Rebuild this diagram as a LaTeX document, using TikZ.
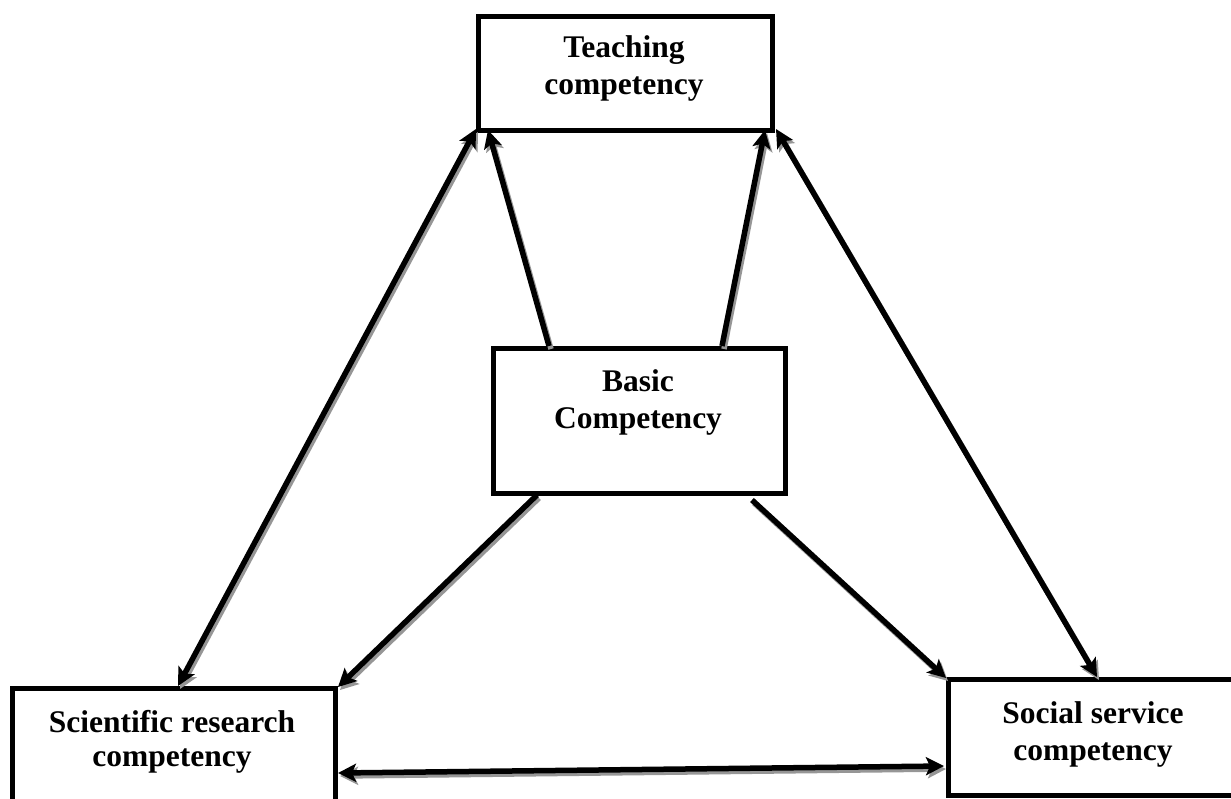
\documentclass[tikz,border=0pt]{standalone}
\usepackage{fontspec}
\setmainfont{Liberation Serif}
\usetikzlibrary{arrows.meta}
\definecolor{shadowgray}{RGB}{150,150,150}
\tikzset{
  box/.style={draw, line width=5pt, rectangle, inner sep=0pt, outer sep=0pt},
  label/.style={anchor=base, inner sep=0pt,
    font=\fontsize{31.5}{37}\selectfont\bfseries},
  tip/.tip={Stealth[length=18pt,width=18pt,inset=4pt]},
  link/.style={line width=5.5pt, -tip},
  linkboth/.style={line width=5.5pt, tip-tip},
  shade/.style={draw=shadowgray, transform canvas={shift={(2pt,-3pt)}}},
}
\begin{document}
\begin{tikzpicture}[x=1pt,y=-1pt]
  \clip (0,0) rectangle (1231,798);

  % boxes
  \node[box, minimum width=294pt, minimum height=114pt] (teach) at (625,73) {};
  \node[box, minimum width=292pt, minimum height=145pt] (basic) at (639,420.5) {};
  \node[box, minimum width=323pt, minimum height=142pt] (sci) at (173.5,759) {};
  \node[box, minimum width=312pt, minimum height=116pt] (soc) at (1104,737) {};

  % box captions
  \node[label] (teachtxt) at (624,57)
    {\begin{tabular}[t]{@{}c@{}}Teaching\\competency\end{tabular}};
  \node[label] (basictxt) at (638,391)
    {\begin{tabular}[t]{@{}c@{}}Basic\\Competency\end{tabular}};
  \node[label, font=\fontsize{31.5}{34}\selectfont\bfseries] (scitxt) at (172,732)
    {\begin{tabular}[t]{@{}c@{}}Scientific research\\competency\end{tabular}};
  \node[label] (soctxt) at (1093,723)
    {\begin{tabular}[t]{@{}c@{}}Social service\\competency\end{tabular}};

  % connector end points on the box borders
  \coordinate (t1) at ([xshift=-2pt,yshift=1pt]teach.south west);
  \coordinate (t2) at ([xshift=10pt]teach.south west);
  \coordinate (t3) at ([xshift=-7pt]teach.south east);
  \coordinate (t4) at ([xshift=4pt,yshift=1pt]teach.south east);
  \coordinate (b1) at ([xshift=56pt,yshift=2pt]basic.north west);
  \coordinate (b2) at ([xshift=-63pt,yshift=2pt]basic.north east);
  \coordinate (b3) at ([xshift=44pt,yshift=-2pt]basic.south west);
  \coordinate (b4) at ([xshift=-33pt,yshift=-7pt]basic.south east);
  \coordinate (s1) at ([xshift=166pt,yshift=2pt]sci.north west);
  \coordinate (s2) at ([xshift=3pt,yshift=1pt]sci.north east);
  \coordinate (s3) at ([xshift=3pt,yshift=-85pt]sci.north east);
  \coordinate (o1) at ([xshift=149pt,yshift=2pt]soc.north west);
  \coordinate (o2) at ([xshift=-2pt,yshift=1pt]soc.north west);
  \coordinate (o3) at ([xshift=-4pt,yshift=-87pt]soc.north west);

  % drop shadows of the connectors
  \draw[linkboth, shade] (t1) -- (s1);
  \draw[linkboth, shade] (t4) -- (o1);
  \draw[linkboth, shade] (s3) -- (o3);
  \draw[link, shade] (b1) -- (t2);
  \draw[link, shade] (b2) -- (t3);
  \draw[link, shade] (b3) -- (s2);
  \draw[link, shade] (b4) -- (o2);

  % connectors
  \draw[linkboth] (t1) -- (s1);
  \draw[linkboth] (t4) -- (o1);
  \draw[linkboth] (s3) -- (o3);
  \draw[link] (b1) -- (t2);
  \draw[link] (b2) -- (t3);
  \draw[link] (b3) -- (s2);
  \draw[link] (b4) -- (o2);
\end{tikzpicture}
\end{document}
